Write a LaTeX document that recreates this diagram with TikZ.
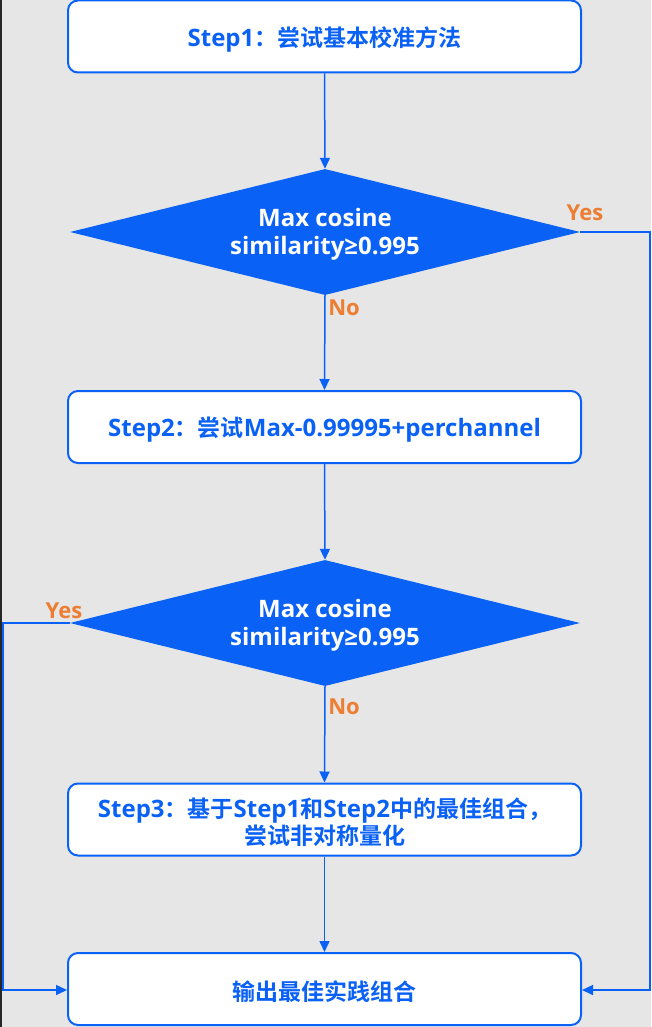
\documentclass[tikz,border=0pt]{standalone}
\usepackage{fontspec}
\setmainfont{Noto Sans CJK SC}[BoldFont={Noto Sans CJK SC Bold}]
\newfontfamily\lat{Open Sans}
\usetikzlibrary{shapes.geometric,arrows.meta}
\definecolor{fblue}{HTML}{0A61F6}
\definecolor{forange}{HTML}{ED7D31}
\definecolor{bggray}{HTML}{E6E6E6}
\newcommand{\LT}[1]{{\lat\fontsize{24}{27}\selectfont #1}}
\tikzset{
  x=1pt, y=-1pt,
  stepbox/.style={draw=fblue, line width=2pt, fill=white, rounded corners=10pt,
    minimum width=513pt, minimum height=72pt, inner sep=0pt},
  steptext/.style={align=center, inner sep=0pt, yshift=-2.5pt,
    text=fblue, font=\fontsize{23}{27}\selectfont\bfseries},
  decision/.style={diamond, fill=fblue, draw=none, aspect=4.05, minimum width=510pt,
    minimum height=126pt, inner sep=0pt},
  dectext/.style={align=center, inner sep=0pt, yshift=-2pt, text=white,
    font=\lat\fontsize{24}{28}\selectfont\bfseries},
  link/.style={draw=fblue, line width=1.5pt, -{Triangle[length=11pt,width=10pt]}},
  answer/.style={text=forange, font=\lat\fontsize{22}{22}\selectfont\bfseries, inner sep=0pt}
}
\begin{document}
\begin{tikzpicture}
\useasboundingbox (0,0) rectangle (651,1027);
\fill[bggray] (0,0) rectangle (651,1027);
\fill[black!85] (0,0) rectangle (1.5,1027);

\node[stepbox, label={[steptext, name=s1t]center:{\LT{Step1}：尝试基本校准方法}}] (s1) at (324.5,36.5) {};
\node[decision, label={[dectext, name=d1t]center:{Max cosine\\similarity≥0.995}}] (d1) at (325,232) {};
\node[stepbox, label={[steptext, name=s2t]center:{\LT{Step2}：尝试\LT{Max-0.99995+perchannel}}}] (s2) at (324.5,427) {};
\node[decision, label={[dectext, name=d2t]center:{Max cosine\\similarity≥0.995}}] (d2) at (325,623) {};
\node[stepbox, label={[steptext, name=s3t]center:{\LT{Step3}：基于\LT{Step1}和\LT{Step2}中的最佳组合，\\尝试非对称量化}}] (s3) at (324.5,819.5) {};
\node[stepbox, label={[steptext, name=s5t]center:{输出最佳实践组合}}] (s5) at (324.5,989) {};

\coordinate (r1) at (650,232);
\coordinate (r2) at (650,990);
\coordinate (l1) at (3,623);
\coordinate (l2) at (3,990);

\draw[link] (s1.south) -- (d1.north);
\draw[link] (d1.south) -- (s2.north);
\draw[link] (s2.south) -- (d2.north);
\draw[link] (d2.south) -- (s3.north);
\draw[link] (s3.south) -- (s5.north);
\draw[link] (d1.east) -- (r1) -- (r2) -- (s5.east |- r2);
\draw[link] (d2.west) -- (l1) -- (l2) -- (s5.west |- l2);

\node[answer] (y1) at (585,213) {Yes};
\node[answer] (n1) at (344,308) {No};
\node[answer] (y2) at (64,611) {Yes};
\node[answer] (n2) at (344,707) {No};
\end{tikzpicture}
\end{document}
